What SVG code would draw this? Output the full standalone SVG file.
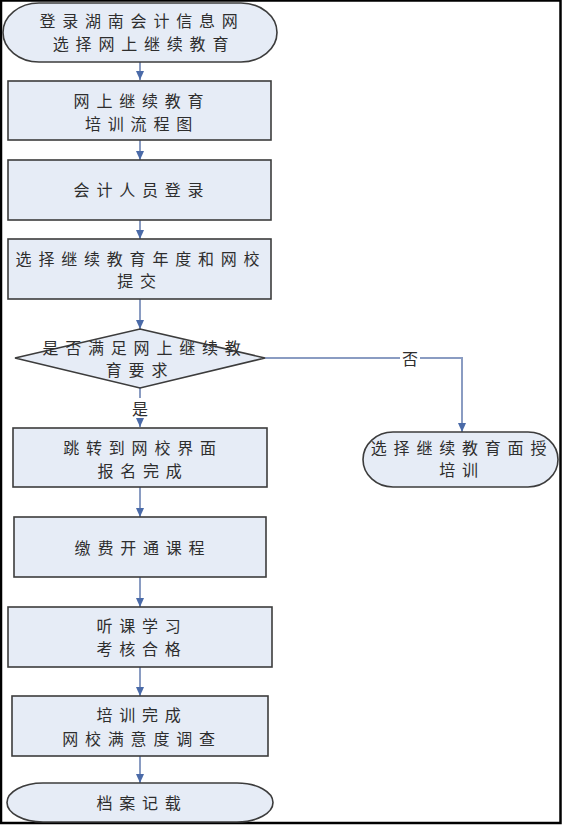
<svg xmlns="http://www.w3.org/2000/svg" width="562" height="825" viewBox="0 0 562 825">
<style>
.n{fill:#E6ECF6;stroke:#3C3C3C;stroke-width:1.6}
.t{font-family:"Noto Sans CJK SC","Noto Sans",sans-serif;font-size:16px;fill:#2E2E2E;text-anchor:middle;dominant-baseline:central;letter-spacing:6.8px}
.l{font-family:"Noto Sans CJK SC","Noto Sans",sans-serif;font-size:16px;fill:#2E2E2E;text-anchor:middle;dominant-baseline:central}
.c{fill:none;stroke:#8A9CC2;stroke-width:2}
</style>
<defs>
<marker id="ah" markerWidth="10" markerHeight="8" refX="9" refY="4" orient="auto" markerUnits="userSpaceOnUse">
<path d="M0,0 L9,4 L0,8 Z" fill="#4A6AA8"/>
</marker>
</defs>
<rect x="0" y="0" width="562" height="825" fill="#FFFFFF"/>
<rect x="1" y="0.5" width="559.5" height="822.5" fill="none" stroke="#000" stroke-width="2.5"/>

<g id="connectors">
<line class="c" x1="140" y1="62" x2="140" y2="80" marker-end="url(#ah)"/>
<line class="c" x1="140" y1="140" x2="140" y2="160" marker-end="url(#ah)"/>
<line class="c" x1="140" y1="220" x2="140" y2="239" marker-end="url(#ah)"/>
<line class="c" x1="140" y1="299" x2="140" y2="329" marker-end="url(#ah)"/>
<line class="c" x1="140" y1="388" x2="140" y2="427" marker-end="url(#ah)"/>
<rect x="130" y="398" width="20" height="20" fill="#FFFFFF"/>
<text class="l" x="140" y="408">是</text>
<polyline class="c" points="265,358 462,358 462,432" marker-end="url(#ah)"/>
<rect x="400" y="348" width="20" height="20" fill="#FFFFFF"/>
<text class="l" x="410" y="358">否</text>
<line class="c" x1="140" y1="487" x2="140" y2="517" marker-end="url(#ah)"/>
<line class="c" x1="140" y1="577" x2="140" y2="607" marker-end="url(#ah)"/>
<line class="c" x1="140" y1="667" x2="140" y2="696" marker-end="url(#ah)"/>
<line class="c" x1="140" y1="756" x2="140" y2="783" marker-end="url(#ah)"/>
</g>

<g id="start">
<rect class="n" x="3" y="3" width="274" height="59" rx="36" ry="29.5"/>
<text class="t" x="142" y="20">登录湖南会计信息网</text>
<text class="t" x="144" y="43">选择网上继续教育</text>
</g>

<g id="n1">
<rect class="n" x="8" y="81" width="263" height="59"/>
<text class="t" x="142" y="100">网上继续教育</text>
<text class="t" x="142" y="123">培训流程图</text>
</g>

<g id="n2">
<rect class="n" x="8" y="160" width="263" height="60"/>
<text class="t" x="142" y="189">会计人员登录</text>
</g>

<g id="n3">
<rect class="n" x="8" y="239" width="263" height="60"/>
<text class="t" x="141" y="258">选择继续教育年度和网校</text>
<text class="t" x="140" y="280">提交</text>
</g>

<g id="decision">
<polygon class="n" points="140,329 265,358 140,388 15,358"/>
<text class="t" x="145" y="347">是否满足网上继续教</text>
<text class="t" x="140" y="369">育要求</text>
</g>

<g id="n4">
<rect class="n" x="13" y="428" width="254" height="59"/>
<text class="t" x="143" y="447">跳转到网校界面</text>
<text class="t" x="143" y="470">报名完成</text>
</g>

<g id="alt">
<rect class="n" x="363" y="432" width="195" height="55" rx="30" ry="27.5"/>
<text class="t" x="462" y="447">选择继续教育面授</text>
<text class="t" x="462" y="469">培训</text>
</g>

<g id="n5">
<rect class="n" x="14" y="517" width="252" height="60"/>
<text class="t" x="143" y="547">缴费开通课程</text>
</g>

<g id="n6">
<rect class="n" x="8" y="607" width="264" height="60"/>
<text class="t" x="142" y="625">听课学习</text>
<text class="t" x="142" y="648">考核合格</text>
</g>

<g id="n7">
<rect class="n" x="12" y="696" width="256" height="60"/>
<text class="t" x="142" y="714">培训完成</text>
<text class="t" x="142" y="738">网校满意度调查</text>
</g>

<g id="end">
<rect class="n" x="7" y="783" width="266" height="39" rx="36" ry="19.5"/>
<text class="t" x="142" y="802">档案记载</text>
</g>
</svg>
